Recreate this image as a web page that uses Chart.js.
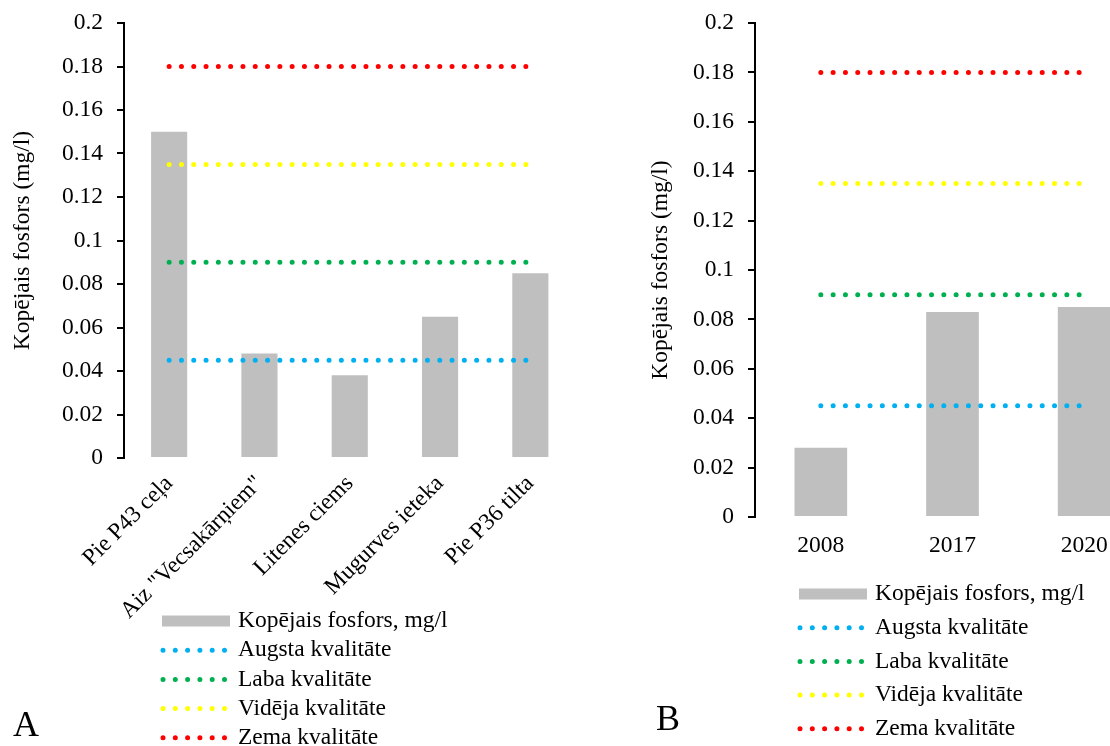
<!DOCTYPE html>
<html>
<head>
<meta charset="utf-8">
<script src="https://cdn.jsdelivr.net/npm/chart.js@4/dist/chart.umd.min.js"></script>
<style>
    html, body { margin: 0; padding: 0; width: 1110px; height: 746px; overflow: hidden; background: #fff; }
    #wrapA { position: absolute; left: 0; top: 0; width: 600px; height: 746px; }
    #wrapB { position: absolute; left: 560px; top: 0; width: 610px; height: 746px; }
    .panel { position: absolute; font-family: 'Liberation Serif', serif; font-size: 36px; line-height: 1; color: #000; }
</style>
</head>
<body>
<div id="wrapA"><canvas id="chartA"></canvas></div>
<div id="wrapB"><canvas id="chartB"></canvas></div>
<div class="panel" style="left:13px; top:706px;">A</div>
<div class="panel" style="left:656px; top:700px;">B</div>
<script>
// Dati: A - pa vietām, B - pa gadiem
const siteLabels = ['Pie P43 ceļa', 'Aiz "Vecsakārņiem"', 'Litenes ciems', 'Mugurves ieteka', 'Pie P36 tilta'];
const siteFosfors = [0.15, 0.048, 0.038, 0.065, 0.085];
const siteAugsta = [0.045, 0.045, 0.045, 0.045, 0.045];
const siteLaba = [0.09, 0.09, 0.09, 0.09, 0.09];
const siteVideja = [0.135, 0.135, 0.135, 0.135, 0.135];
const siteZema = [0.18, 0.18, 0.18, 0.18, 0.18];

const yearLabels = ['2008', '2017', '2020'];
const yearFosfors = [0.028, 0.083, 0.085];
const yearAugsta = [0.045, 0.045, 0.045];
const yearLaba = [0.09, 0.09, 0.09];
const yearVideja = [0.135, 0.135, 0.135];
const yearZema = [0.18, 0.18, 0.18];

const yTickLabels = ['0', '0.02', '0.04', '0.06', '0.08', '0.1', '0.12', '0.14', '0.16', '0.18', '0.2'];
const yTitle = 'Kopējais fosfors (mg/l)';

const FONT = 'Liberation Serif';
const FONT_SIZE = 23.5;

// Leģenda vienā kolonnā zem grafika
const stackLegend = {
    id: 'stackLegend',
    afterDraw(chart, args, opts) {
        const ctx = chart.ctx;
        ctx.save();
        ctx.font = FONT_SIZE + 'px "' + FONT + '"';
        ctx.textBaseline = 'middle';
        chart.data.datasets.forEach((ds, i) => {
            const y = opts.top + i * opts.rowHeight;
            if (ds.type === 'bar') {
                ctx.fillStyle = ds.backgroundColor;
                ctx.fillRect(opts.left, y - 5.5, opts.swatch, 11);
            } else {
                ctx.strokeStyle = ds.borderColor;
                ctx.lineWidth = ds.borderWidth;
                ctx.lineCap = 'round';
                ctx.setLineDash(ds.borderDash);
                ctx.beginPath();
                ctx.moveTo(opts.left + 1, y);
                ctx.lineTo(opts.left + opts.swatch - 4, y);
                ctx.stroke();
                ctx.setLineDash([]);
            }
            ctx.fillStyle = '#000';
            ctx.fillText(ds.label, opts.left + opts.swatch + 8, y);
        });
        ctx.restore();
    }
};

function dotted(label, data, color) {
    return {
        type: 'line',
        label,
        data,
        borderColor: color,
        backgroundColor: color,
        borderWidth: 5,
        borderDash: [0, 12.3],
        borderCapStyle: 'round',
        pointRadius: 0,
        fill: false,
        order: 0
    };
}

function makeChart(id, labels, bars, augsta, laba, videja, zema, cfg) {
    return new Chart(document.getElementById(id), {
        type: 'bar',
        data: {
            labels,
            datasets: [
                {
                    type: 'bar',
                    label: 'Kopējais fosfors, mg/l',
                    data: bars,
                    backgroundColor: '#bfbfbf',
                    barPercentage: 0.4,
                    categoryPercentage: 1,
                    order: 1
                },
                dotted('Augsta kvalitāte', augsta, '#00b0f0'),
                dotted('Laba kvalitāte', laba, '#00b050'),
                dotted('Vidēja kvalitāte', videja, '#ffff00'),
                dotted('Zema kvalitāte', zema, '#ff0000')
            ]
        },
        options: {
            responsive: true,
            maintainAspectRatio: false,
            animation: false,
            layout: { padding: cfg.padding },
            plugins: {
                legend: { display: false },
                tooltip: { enabled: false },
                stackLegend: cfg.legend
            },
            scales: {
                x: {
                    grid: { display: false, drawTicks: false },
                    border: { display: false },
                    ticks: {
                        color: '#000',
                        font: { family: FONT, size: FONT_SIZE },
                        padding: cfg.xPad,
                        autoSkip: false,
                        minRotation: cfg.rotation,
                        maxRotation: cfg.rotation
                    },
                    afterFit: (scale) => { scale.height = cfg.xHeight; }
                },
                y: {
                    min: 0,
                    max: 0.2,
                    grid: { drawOnChartArea: false, drawTicks: true, tickLength: 7, color: '#000', lineWidth: 2 },
                    border: { display: true, color: '#000', width: 2 },
                    ticks: {
                        stepSize: 0.02,
                        color: '#000',
                        padding: 14,
                        // mazāks lineHeight, lai skala nepaplašinātu augšējo atkāpi
                        font: { family: FONT, size: FONT_SIZE, lineHeight: 0.7 },
                        callback: (v, i) => yTickLabels[i]
                    },
                    title: {
                        display: true,
                        text: yTitle,
                        color: '#000',
                        font: { family: FONT, size: FONT_SIZE },
                        padding: { top: 9, bottom: 0 }
                    },
                    afterFit: (scale) => { scale.width = cfg.yWidth; }
                }
            }
        },
        plugins: [stackLegend]
    });
}

makeChart('chartA', siteLabels, siteFosfors, siteAugsta, siteLaba, siteVideja, siteZema, {
    padding: { left: 0, top: 23, right: 24.5, bottom: 0 },
    yWidth: 124,
    xHeight: 288,
    xPad: 12,
    rotation: 45,
    legend: { left: 162, top: 621, rowHeight: 29.2, swatch: 68 }
});

makeChart('chartB', yearLabels, yearFosfors, yearAugsta, yearLaba, yearVideja, yearZema, {
    padding: { left: 78, top: 23, right: 20, bottom: 0 },
    yWidth: 117,
    xHeight: 229,
    xPad: 15,
    rotation: 0,
    legend: { left: 239, top: 594, rowHeight: 33.7, swatch: 68 }
});
</script>
</body>
</html>
